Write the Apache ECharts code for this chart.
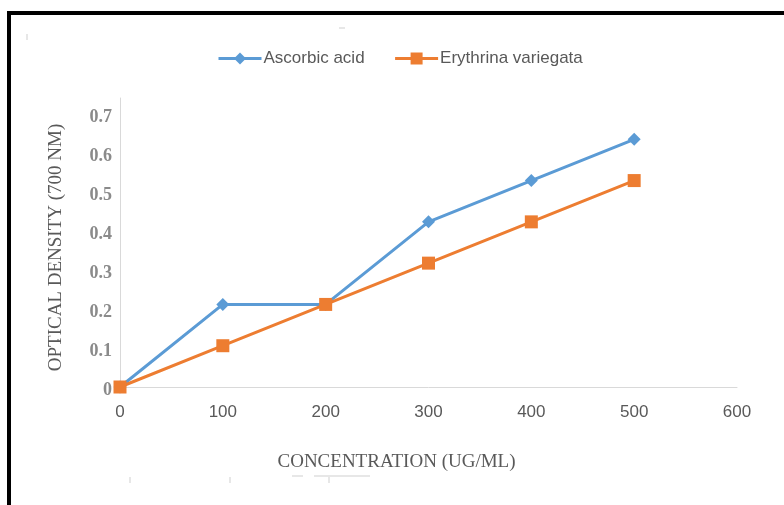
<!DOCTYPE html>
<html>
<head>
<meta charset="utf-8">
<script src="https://cdn.jsdelivr.net/npm/echarts@6/dist/echarts.min.js"></script>
<style>
  html, body { margin: 0; padding: 0; background: #fff; }
  #chart { width: 784px; height: 505px; }
</style>
</head>
<body>
<div id="chart"></div>
<script>
// Concentration steps (ug/mL)
const concentrations = [0, 100, 200, 300, 400, 500];
// Optical density at 700 nm
const ascorbicAcid = [0, 0.2, 0.2, 0.4, 0.5, 0.6];
const erythrinaVariegata = [0, 0.1, 0.2, 0.3, 0.4, 0.5];
const seriesNames = ['Ascorbic acid', 'Erythrina variegata'];
const yTickLabels = ['0', '0.1', '0.2', '0.3', '0.4', '0.5', '0.6', '0.7'];

const blue = '#5B9BD5';
const orange = '#ED7D31';
const textGray = '#595959';
const axisGray = '#d9d9d9';

const chart = echarts.init(document.getElementById('chart'), null, { renderer: 'canvas' });

const pairs = (ys) => concentrations.map((x, i) => [x, ys[i]]);

chart.setOption({
  backgroundColor: '#ffffff',
  animation: false,
  legend: {
    left: 212,
    top: 45,
    itemWidth: 43,
    itemHeight: 15,
    itemGap: 29,
    lineStyle: { width: 3 },
    textStyle: { color: textGray, fontSize: 17, fontFamily: 'Liberation Sans', padding: [0, 0, 0, -3] },
    data: seriesNames
  },
  grid: [
    { left: 120, right: 47, top: 98, bottom: 118 },
    // label band for the density ticks
    { left: 120, right: 47, top: 117, bottom: 115 }
  ],
  xAxis: [
    {
      type: 'value', gridIndex: 0, min: 0, max: 600, interval: 100,
      axisLine: { show: true, lineStyle: { color: axisGray, width: 1 } },
      axisTick: { show: false },
      splitLine: { show: false },
      axisLabel: { color: textGray, fontSize: 17, fontFamily: 'Liberation Sans', margin: 17 },
      name: 'CONCENTRATION (UG/ML)',
      nameLocation: 'middle',
      nameGap: 66,
      nameTextStyle: { color: textGray, fontSize: 19, fontFamily: 'Liberation Serif', padding: [0, 64, 0, 0] }
    },
    { type: 'value', gridIndex: 1, min: 0, max: 600, show: false }
  ],
  yAxis: [
    {
      type: 'value', gridIndex: 0, min: 0, max: 0.7, interval: 0.1,
      axisLine: { show: true, lineStyle: { color: axisGray, width: 1 } },
      axisTick: { show: false },
      splitLine: { show: false },
      axisLabel: { show: false },
      name: 'OPTICAL DENSITY (700 NM)',
      nameLocation: 'middle',
      nameGap: 54,
      nameRotate: 90,
      nameTextStyle: { color: textGray, fontSize: 19, fontFamily: 'Liberation Serif', padding: [0, 10, 0, 0] }
    },
    {
      type: 'value', gridIndex: 1, min: 0, max: 0.7, interval: 0.1,
      axisLine: { show: false },
      axisTick: { show: false },
      splitLine: { show: false },
      axisLabel: {
        color: '#8a8a8a', fontSize: 18, fontWeight: 'bold', fontFamily: 'Liberation Serif', margin: 8,
        formatter: (v) => yTickLabels[Math.round(v * 10)] || ''
      }
    }
  ],
  series: [
    {
      name: seriesNames[0], type: 'line', xAxisIndex: 0, yAxisIndex: 0,
      data: pairs(ascorbicAcid),
      symbol: 'diamond', symbolSize: 13,
      itemStyle: { color: blue },
      lineStyle: { color: blue, width: 3 },
      z: 2
    },
    {
      name: seriesNames[1], type: 'line', xAxisIndex: 0, yAxisIndex: 0,
      data: pairs(erythrinaVariegata),
      symbol: 'rect', symbolSize: 13,
      itemStyle: { color: orange },
      lineStyle: { color: orange, width: 3 },
      z: 3
    }
  ],
  graphic: [
    // frame around the figure
    { type: 'rect', shape: { x: 9, y: 13, width: 800, height: 600 },
      style: { fill: 'none', stroke: '#000', lineWidth: 4 }, silent: true },
    // faint stray marks
    { type: 'line', shape: { x1: 27, y1: 34, x2: 27, y2: 40 }, style: { stroke: '#cfcfcf', lineWidth: 1 } },
    { type: 'line', shape: { x1: 339, y1: 28, x2: 345, y2: 28 }, style: { stroke: '#cfcfcf', lineWidth: 1 } },
    { type: 'line', shape: { x1: 130, y1: 477, x2: 130, y2: 483 }, style: { stroke: '#cfcfcf', lineWidth: 1 } },
    { type: 'line', shape: { x1: 230, y1: 477, x2: 230, y2: 483 }, style: { stroke: '#cfcfcf', lineWidth: 1 } },
    { type: 'line', shape: { x1: 329, y1: 477, x2: 329, y2: 483 }, style: { stroke: '#cfcfcf', lineWidth: 1 } },
    { type: 'line', shape: { x1: 292, y1: 476, x2: 303, y2: 476 }, style: { stroke: '#cfcfcf', lineWidth: 1 } },
    { type: 'line', shape: { x1: 314, y1: 476, x2: 370, y2: 476 }, style: { stroke: '#cfcfcf', lineWidth: 1 } },
    { type: 'circle', shape: { cx: 58, cy: 340, r: 0.8 }, style: { fill: '#555' } }
  ]
});
</script>
</body>
</html>
